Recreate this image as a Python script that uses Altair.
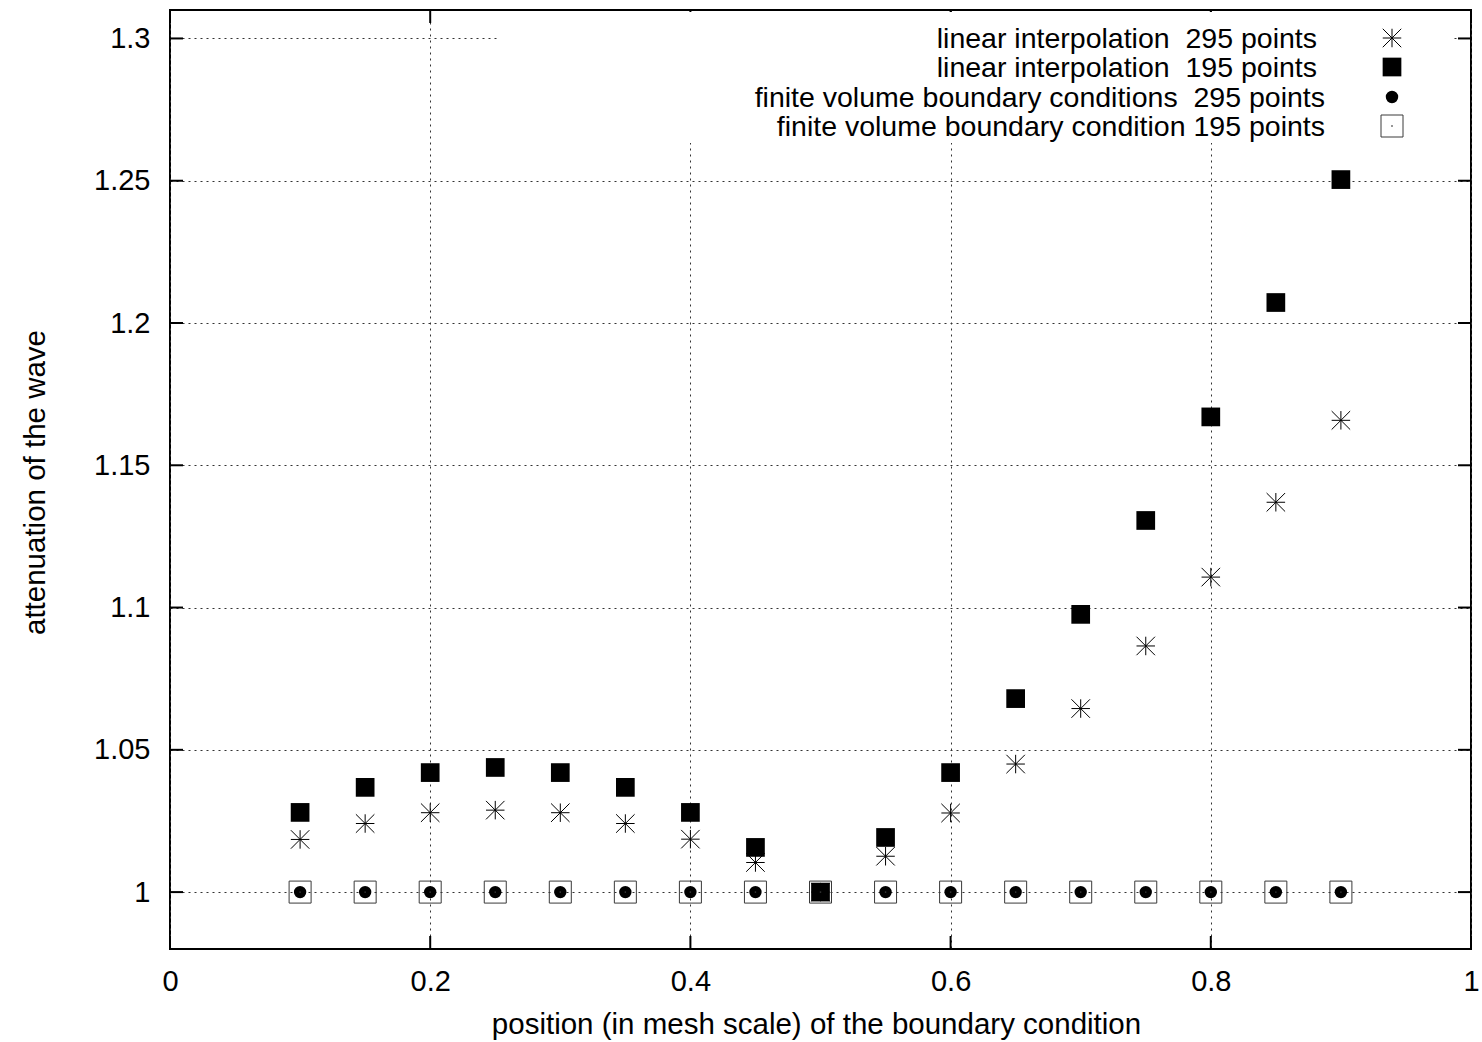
import altair as alt
import pandas as pd

# Boundary-condition position (mesh scale) and measured wave attenuation
positions = [0.10, 0.15, 0.20, 0.25, 0.30, 0.35, 0.40, 0.45, 0.50,
             0.55, 0.60, 0.65, 0.70, 0.75, 0.80, 0.85, 0.90]
lin_295 = [1.0185, 1.0241, 1.0279, 1.0288, 1.0279, 1.0241, 1.0186, 1.0104, 1.0000,
           1.0126, 1.0278, 1.0450, 1.0645, 1.0865, 1.1107, 1.1370, 1.1658]
lin_195 = [1.0280, 1.0368, 1.0420, 1.0438, 1.0420, 1.0368, 1.0280, 1.0157, 1.0000,
           1.0192, 1.0420, 1.0680, 1.0976, 1.1306, 1.1670, 1.2072, 1.2504]
fv_295 = [1.0, 1.0, 1.0, 1.0, 1.0, 1.0, 1.0, 1.0, 1.0,
          1.0, 1.0, 1.0, 1.0, 1.0, 1.0, 1.0, 1.0]
fv_195 = [1.0, 1.0, 1.0, 1.0, 1.0, 1.0, 1.0, 1.0, 1.0,
          1.0, 1.0, 1.0, 1.0, 1.0, 1.0, 1.0, 1.0]

series_labels = [
    "linear interpolation\u00a0 295 points",
    "linear interpolation\u00a0 195 points",
    "finite volume boundary conditions\u00a0 295 points",
    "finite volume boundary condition 195 points",
]

x_ticks = [0.0, 0.2, 0.4, 0.6, 0.8, 1.0]
y_ticks = [1.0, 1.05, 1.1, 1.15, 1.2, 1.25, 1.3]

FONT = "Liberation Sans"
FS_LABEL = 29
FS_TEXT = 29.5
FS_KEY = 28.5
W, H = 1301, 939
TICK = 13
STAR = "M-1,0L1,0M0,-1L0,1M-1,-1L1,1M-1,1L1,-1"

x_scale = alt.Scale(domain=[0, 1], nice=False, zero=False)
y_scale = alt.Scale(domain=[0.98, 1.31], nice=False, zero=False)

x_axis = alt.Axis(
    values=x_ticks, format="~g", labelPadding=32, labelBaseline="middle",
    title="position (in mesh scale) of the boundary condition",
    titleX=646, titleY=75, titleAlign="center", titleBaseline="middle",
)
y_axis = alt.Axis(
    values=y_ticks, format="~g", labelPadding=20, labelBaseline="middle",
    title="attenuation of the wave", titleAngle=270,
    titleX=-135, titleY=472, titleAlign="center", titleBaseline="middle",
)

X = alt.X("x:Q", scale=x_scale, axis=x_axis)
Y = alt.Y("y:Q", scale=y_scale, axis=y_axis)


def frame(vals):
    return pd.DataFrame({"x": positions, "y": vals})


one = pd.DataFrame({"k": [0]})
xt = pd.DataFrame({"x": x_ticks})
yt = pd.DataFrame({"y": y_ticks})

# inward tick marks on all four sides
tick_style = dict(color="black", strokeWidth=2)
ticks = [
    alt.Chart(xt).mark_rule(**tick_style).encode(x=X, y=alt.value(H), y2=alt.value(H - TICK)),
    alt.Chart(xt).mark_rule(**tick_style).encode(x=X, y=alt.value(0), y2=alt.value(TICK)),
    alt.Chart(yt).mark_rule(**tick_style).encode(y=Y, x=alt.value(0), x2=alt.value(TICK)),
    alt.Chart(yt).mark_rule(**tick_style).encode(y=Y, x=alt.value(W - TICK), x2=alt.value(W)),
]

# opaque key box
key_box = alt.Chart(one).mark_rect(fill="white").encode(
    x=alt.value(330), x2=alt.value(1282), y=alt.value(2), y2=alt.value(133)
)

# marker styles per series
star_mark = dict(shape=STAR, filled=False, stroke="black", strokeWidth=1, size=342, opacity=1)
fsq_mark = dict(shape="square", filled=True, color="black", size=350, opacity=1)
dot_mark = dict(shape="circle", filled=True, color="black", size=154, opacity=1)
osq_mark = dict(shape="square", filled=False, stroke="#3a3a3a", strokeWidth=1, size=484, opacity=1)
ctr_mark = dict(shape="square", filled=True, color="#3a3a3a", size=2, opacity=1)

points = [
    alt.Chart(frame(lin_295)).mark_point(**star_mark).encode(x=X, y=Y),
    alt.Chart(frame(lin_195)).mark_point(**fsq_mark).encode(x=X, y=Y),
    alt.Chart(frame(fv_295)).mark_point(**dot_mark).encode(x=X, y=Y),
    alt.Chart(frame(fv_195)).mark_point(**osq_mark).encode(x=X, y=Y),
    alt.Chart(frame(fv_195)).mark_point(**ctr_mark).encode(x=X, y=Y),
]

# key entries: label right-aligned, sample marker to the right
key_rows = [29, 58, 88, 117]
key_right = [1147, 1147, 1155, 1155]
key_marks = [[star_mark], [fsq_mark], [dot_mark], [osq_mark, ctr_mark]]
key = []
for label, ty, tx, marks in zip(series_labels, key_rows, key_right, key_marks):
    key.append(
        alt.Chart(one).mark_text(
            align="right", baseline="middle", font=FONT, fontSize=FS_KEY, color="black"
        ).encode(x=alt.value(tx), y=alt.value(ty), text=alt.value(label))
    )
    for m in marks:
        key.append(
            alt.Chart(one).mark_point(**m).encode(x=alt.value(1222), y=alt.value(ty - 1))
        )

chart = alt.layer(*ticks, key_box, *points, *key).properties(
    width=W,
    height=H,
    autosize=alt.AutoSizeParams(type="none"),
    padding={"left": 170, "top": 10, "right": 11, "bottom": 93},
    background="white",
).configure_view(
    stroke="black", strokeWidth=2
).configure_axis(
    grid=True, gridColor="#333333", gridDash=[2, 4], gridWidth=1,
    domain=False, ticks=False, tickSize=0,
    labelFont=FONT, labelFontSize=FS_LABEL, labelColor="black",
    labelFlush=False, labelOverlap=False,
    titleFont=FONT, titleFontSize=FS_TEXT, titleFontWeight="normal", titleColor="black",
)

chart.save("out.html", embed_options={"renderer": "svg", "actions": False})
